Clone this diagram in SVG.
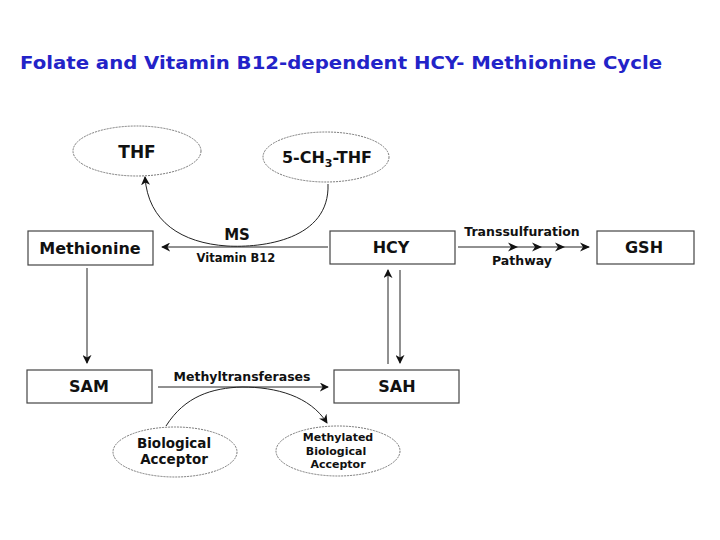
<svg xmlns="http://www.w3.org/2000/svg" width="720" height="540" viewBox="0 0 720 540">
<style>
.t{font-family:"DejaVu Sans","Liberation Sans",sans-serif;font-weight:bold;fill:#111;text-anchor:middle}
.box{fill:#fff;stroke:#444;stroke-width:1.2}
.ell{fill:#fff;stroke:#777;stroke-width:1;stroke-dasharray:2 1}
.ln{fill:none;stroke:#222;stroke-width:1}
</style>
<defs>
<marker id="ah" viewBox="0 0 10 10" refX="9" refY="5" markerWidth="9" markerHeight="9" markerUnits="userSpaceOnUse" orient="auto">
<path d="M0,0 L10,5 L0,10 L3,5 z" fill="#111"/>
</marker>
<marker id="mh" viewBox="0 0 10 10" refX="9" refY="5" markerWidth="10" markerHeight="10" markerUnits="userSpaceOnUse" orient="auto">
<path d="M0,0.5 L10,5 L0,9.5 L3,5 z" fill="#111"/>
</marker>
</defs>
<rect width="720" height="540" fill="#fff"/>
<text x="20" y="69" font-family="DejaVu Sans,Verdana,sans-serif" font-weight="bold" font-size="18" fill="#2323c8" textLength="642" lengthAdjust="spacingAndGlyphs">Folate and Vitamin B12-dependent HCY- Methionine Cycle</text>

<g id="connectors">
<line class="ln" x1="328" y1="247" x2="162" y2="247" marker-end="url(#ah)"/>
<path class="ln" d="M328,184 C330,240 262,248 227,246 C182,243 148,222 145,177" marker-end="url(#ah)"/>
<line class="ln" x1="458" y1="247" x2="589" y2="247" marker-end="url(#mh)"/>
<path d="M508,242.5 L518,247 L508,251.5 L511,247 z M532,242.5 L542,247 L532,251.5 L535,247 z M555,242.5 L565,247 L555,251.5 L558,247 z" fill="#111"/>
<line class="ln" x1="87" y1="268" x2="87" y2="363" marker-end="url(#ah)"/>
<line class="ln" x1="388" y1="364" x2="388" y2="270" marker-end="url(#ah)"/>
<line class="ln" x1="400" y1="270" x2="400" y2="363" marker-end="url(#ah)"/>
<line class="ln" x1="158" y1="387" x2="328" y2="387" marker-end="url(#ah)"/>
<path class="ln" d="M166,426 C185,396 212,388 242,387 C276,387 310,396 327,423" marker-end="url(#ah)"/>
<text class="t" x="237" y="240" font-size="15">MS</text>
<text class="t" x="236" y="262" font-size="11.5">Vitamin B12</text>
<text class="t" x="522" y="236" font-size="12.5">Transsulfuration</text>
<text class="t" x="522" y="265" font-size="12.5">Pathway</text>
<text class="t" x="242" y="381" font-size="12.5">Methyltransferases</text>
</g>

<g id="thf"><ellipse class="ell" cx="137" cy="151" rx="64" ry="25"/><text class="t" x="137" y="158" font-size="17">THF</text></g>
<g id="methylthf"><ellipse class="ell" cx="326" cy="157" rx="63" ry="25"/><text class="t" x="327" y="163" font-size="16">5-CH<tspan font-size="11" dy="4">3</tspan><tspan dy="-4">-THF</tspan></text></g>
<g id="methionine"><rect class="box" x="28" y="231" width="125" height="34"/><text class="t" x="90" y="254" font-size="16">Methionine</text></g>
<g id="hcy"><rect class="box" x="330" y="231" width="125" height="33"/><text class="t" x="391" y="253" font-size="16">HCY</text></g>
<g id="gsh"><rect class="box" x="597" y="231" width="97" height="33"/><text class="t" x="644" y="253" font-size="16">GSH</text></g>
<g id="sam"><rect class="box" x="27" y="370" width="125" height="33"/><text class="t" x="89" y="392" font-size="16">SAM</text></g>
<g id="sah"><rect class="box" x="334" y="370" width="125" height="33"/><text class="t" x="397" y="392" font-size="16">SAH</text></g>
<g id="acceptor"><ellipse class="ell" cx="175" cy="452" rx="62" ry="25"/><text class="t" x="174" y="448" font-size="13.5">Biological</text><text class="t" x="174" y="464" font-size="13.5">Acceptor</text></g>
<g id="methylated"><ellipse class="ell" cx="338" cy="451" rx="62" ry="25"/><text class="t" x="338" y="441" font-size="11" font-weight="600">Methylated</text><text class="t" x="336" y="455" font-size="11" font-weight="600">Biological</text><text class="t" x="338" y="468" font-size="11" font-weight="600">Acceptor</text></g>
</svg>
